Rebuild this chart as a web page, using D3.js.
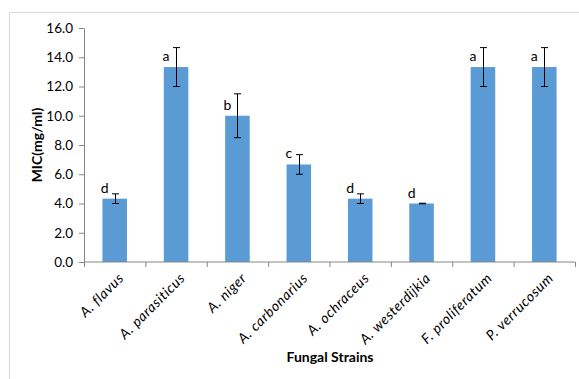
<!DOCTYPE html>
<html><head><meta charset="utf-8">
<script src="https://cdn.jsdelivr.net/npm/d3@7"></script>
<style>body{margin:0;background:#fff}svg{display:block}</style>
</head><body>
<script>
const categories = ["A. flavus","A. parasiticus","A. niger","A. carbonarius","A. ochraceus","A. westerdijkia","F. proliferatum","P. verrucosum"];
const values = [4.33,13.33,10.0,6.67,4.33,4.0,13.33,13.33];
const errors = [0.33,1.33,1.5,0.67,0.33,0.02,1.33,1.33];
const letters = ["d","a","b","c","d","d","a","a"];
const yTicks = [0,2,4,6,8,10,12,14,16];

const W=579,H=379;
const svg=d3.select("body").append("svg").attr("width",W).attr("height",H);
const font="Lato, 'Open Sans', sans-serif";
// frame
svg.append("path").attr("d","M9.5,400 V12.5 H600").attr("fill","none").attr("stroke","#d9d9d9").attr("stroke-width",1);

const x=d3.scaleBand().domain(categories).range([84,575]).paddingInner(0.6).paddingOuter(0.3);
const xb=d3.scaleBand().domain(categories).range([84,575]);
const y=d3.scaleLinear().domain([0,16]).range([262,28]);

// y axis
const ya=svg.append("g").attr("transform","translate(84,0)")
 .call(d3.axisLeft(y).tickValues(yTicks).tickFormat(d3.format(".1f")).tickSize(5).tickSizeOuter(0));
ya.select(".domain").attr("stroke","#868686");
ya.selectAll(".tick line").attr("stroke","#868686");
ya.selectAll("text").attr("font-family",font).attr("font-size",13.5).attr("fill","#000").attr("x",-11);

// bars
svg.selectAll("rect.bar").data(values).join("rect").attr("class","bar")
 .attr("x",(d,i)=>x(categories[i])).attr("width",x.bandwidth())
 .attr("y",d=>y(d)).attr("height",d=>y(0)-y(d)).attr("fill","#5b9bd5");

// x axis
const xa=svg.append("g").attr("transform","translate(0,262)");
xa.append("line").attr("x1",84).attr("x2",575).attr("stroke","#868686");
const tks=d3.range(categories.length+1).map(i=>84+i*xb.step());
xa.selectAll("line.t").data(tks).join("line").attr("class","t").attr("x1",d=>d+0.5).attr("x2",d=>d+0.5).attr("y1",0).attr("y2",5).attr("stroke","#868686");
xa.selectAll("text").data(categories).join("text")
 .attr("transform",d=>`translate(${xb(d)+xb.bandwidth()/2+3},${10}) rotate(-45)`)
 .attr("text-anchor","end").attr("dy","0.7em").attr("font-family",font).attr("font-style","italic")
 .attr("font-size",14).attr("letter-spacing",0.6).text(d=>d);

// error bars
const eg=svg.append("g").attr("stroke","#000").attr("stroke-width",1);
values.forEach((v,i)=>{
 const cx=Math.round(x(categories[i])+x.bandwidth()/2)+0.5;
 const t=y(v+errors[i]), b=y(v-errors[i]);
 eg.append("line").attr("x1",cx).attr("x2",cx).attr("y1",t).attr("y2",b);
 eg.append("line").attr("x1",cx-3.5).attr("x2",cx+3.5).attr("y1",t).attr("y2",t);
 eg.append("line").attr("x1",cx-3.5).attr("x2",cx+3.5).attr("y1",b).attr("y2",b);
});

// letters
svg.selectAll("text.lab").data(values).join("text").attr("class","lab")
 .attr("x",(d,i)=>x(categories[i])+x.bandwidth()/2-10).attr("y",d=>y(d)-6)
 .attr("text-anchor","middle").attr("font-family",font).attr("font-size",14).text((d,i)=>letters[i]);

// titles
svg.append("text").attr("transform","translate(42,145) rotate(-90)").attr("text-anchor","middle")
 .attr("font-family",font).attr("font-weight","bold").attr("font-size",14).text("MIC(mg/ml)");
svg.append("text").attr("x",330).attr("y",362).attr("text-anchor","middle")
 .attr("font-family",font).attr("font-weight","bold").attr("font-size",14).text("Fungal Strains");
</script>
</body></html>
